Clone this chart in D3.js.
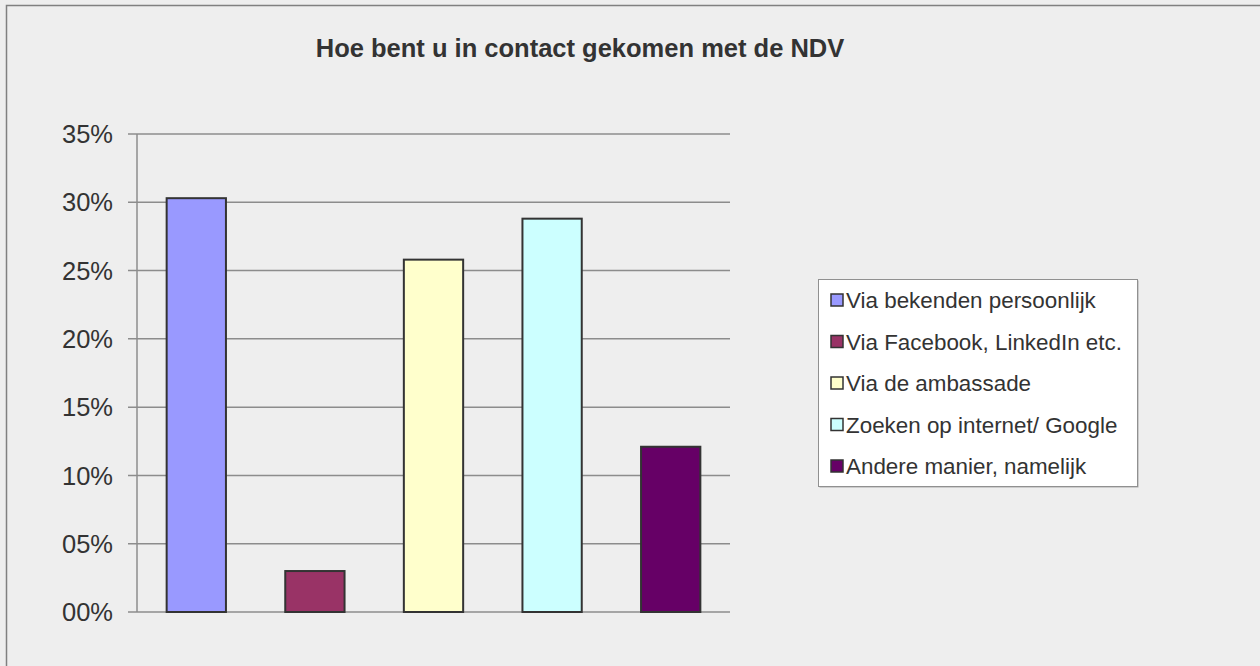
<!DOCTYPE html>
<html lang="nl">
<head>
    <meta charset="UTF-8">
    <title>Hoe bent u in contact gekomen met de NDV</title>
    <script src="https://d3js.org/d3.v7.min.js"></script>
    <style>
        body { margin: 0; background: #eeeeee; font-family: "Liberation Sans", Arial, sans-serif; }
        svg { display: block; }
    </style>
</head>
<body>
    <div id="chart"></div>

    <script>
        const categories = ["Via bekenden persoonlijk", "Via Facebook, LinkedIn etc.", "Via de ambassade", "Zoeken op internet/ Google", "Andere manier, namelijk"];
        const values = [0.303, 0.030, 0.258, 0.288, 0.121];
        const colors = ["#9999ff", "#993366", "#ffffcc", "#ccffff", "#660066"];
        const yTicks = [0, 0.05, 0.10, 0.15, 0.20, 0.25, 0.30, 0.35];
        const tickLabels = ["00%", "05%", "10%", "15%", "20%", "25%", "30%", "35%"];

        const width = 1260;
        const height = 666;
        const plot = { left: 137, right: 730, top: 134, bottom: 612 };

        const svg = d3.select("#chart")
            .append("svg")
            .attr("width", width)
            .attr("height", height);

        // outer frame (only top and left edges show in the picture)
        svg.append("rect")
            .attr("x", 6.5)
            .attr("y", 5.5)
            .attr("width", width + 10)
            .attr("height", height + 10)
            .attr("fill", "#eeeeee")
            .attr("stroke", "#808080")
            .attr("stroke-width", 1.5);

        svg.append("text")
            .attr("x", 580)
            .attr("y", 57)
            .attr("text-anchor", "middle")
            .style("font-size", "25.5px")
            .style("font-weight", "bold")
            .attr("fill", "#333333")
            .text("Hoe bent u in contact gekomen met de NDV");

        const x = d3.scaleBand()
            .domain(categories)
            .range([plot.left, plot.right])
            .paddingInner(0.5)
            .paddingOuter(0.25);

        const y = d3.scaleLinear()
            .domain([0, 0.35])
            .range([plot.bottom, plot.top]);

        // gridlines with small left ticks
        svg.append("g")
            .selectAll("line")
            .data(yTicks)
            .enter()
            .append("line")
            .attr("x1", plot.left - 9)
            .attr("x2", plot.right)
            .attr("y1", d => y(d))
            .attr("y2", d => y(d))
            .attr("stroke", "#8c8c8c")
            .attr("stroke-width", 1.5);

        svg.append("line")
            .attr("x1", plot.left)
            .attr("x2", plot.left)
            .attr("y1", y(0.35))
            .attr("y2", y(0))
            .attr("stroke", "#8c8c8c")
            .attr("stroke-width", 1.5);

        svg.append("g")
            .selectAll("text")
            .data(yTicks)
            .enter()
            .append("text")
            .attr("x", plot.left - 24)
            .attr("y", d => y(d))
            .attr("dy", "0.36em")
            .attr("text-anchor", "end")
            .style("font-size", "25.5px")
            .attr("fill", "#333333")
            .text((d, i) => tickLabels[i]);

        svg.append("g")
            .selectAll("rect")
            .data(values)
            .enter()
            .append("rect")
            .attr("x", (d, i) => x(categories[i]))
            .attr("y", d => y(d))
            .attr("width", x.bandwidth())
            .attr("height", d => y(0) - y(d))
            .attr("fill", (d, i) => colors[i])
            .attr("stroke", "#333333")
            .attr("stroke-width", 2);

        // legend
        const legend = svg.append("g").attr("transform", "translate(818,279)");
        legend.append("rect")
            .attr("x", 1.5).attr("y", 1.5)
            .attr("width", 319).attr("height", 207)
            .attr("fill", "#aaaaaa");
        legend.append("rect")
            .attr("x", 0.5).attr("y", 0.5)
            .attr("width", 319).attr("height", 207)
            .attr("fill", "#ffffff")
            .attr("stroke", "#909090")
            .attr("stroke-width", 1);

        const items = legend.selectAll("g.item")
            .data(categories)
            .enter()
            .append("g")
            .attr("class", "item")
            .attr("transform", (d, i) => `translate(0,${21 + i * 41.5})`);

        items.append("rect")
            .attr("x", 13)
            .attr("y", -6)
            .attr("width", 12)
            .attr("height", 12)
            .attr("fill", (d, i) => colors[i])
            .attr("stroke", "#333333")
            .attr("stroke-width", 1.5);

        items.append("text")
            .attr("x", 28)
            .attr("y", 0)
            .attr("dy", "0.36em")
            .style("font-size", "22.4px")
            .attr("fill", "#333333")
            .text(d => d);
    </script>
</body>
</html>
